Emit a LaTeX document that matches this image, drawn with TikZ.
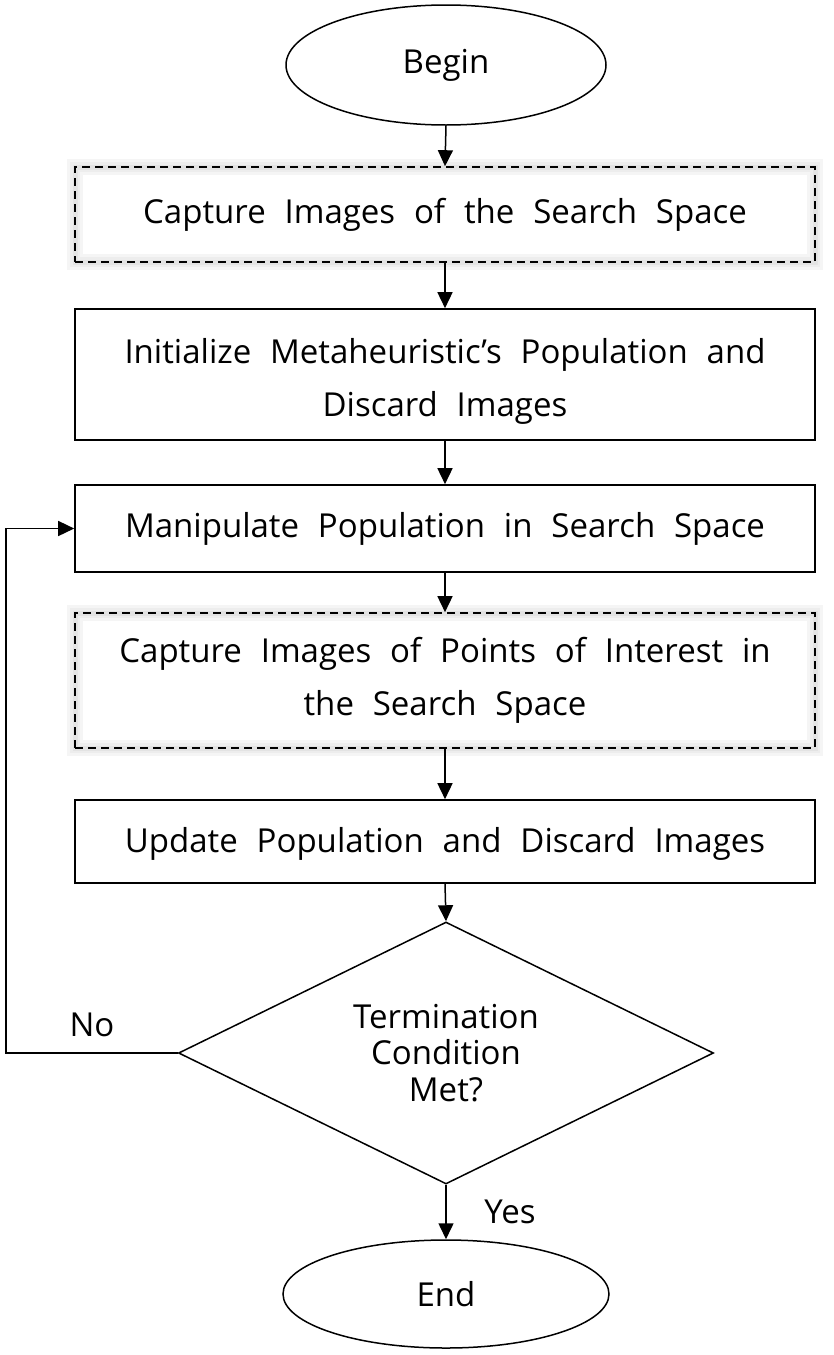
\documentclass[tikz,border=0pt]{standalone}
\usepackage{fontspec}
\setmainfont[WordSpace=2.2]{Open Sans}
\usetikzlibrary{arrows.meta,shapes.geometric}
\begin{document}
\begin{tikzpicture}[x=1pt,y=-1pt,
  txt/.style={font=\fontsize{33}{53}\selectfont},
  term/.style={draw,ellipse,line width=1.5pt,inner sep=0pt,txt},
  box/.style={draw,rectangle,line width=1.6pt,inner sep=0pt,minimum width=740pt,align=center,txt},
  dbox/.style={box,dash pattern=on 8pt off 5pt,
    preaction={draw,solid,line width=16pt,black!4},
    preaction={draw,solid,line width=10pt,black!7},
    preaction={draw,solid,line width=5pt,black!11}},
  dec/.style={draw,diamond,aspect=2,line width=1.5pt,inner sep=0pt,align=center,font=\fontsize{33}{36.5}\selectfont},
  arr/.style={line width=1.5pt,-{Triangle[length=16pt,width=15pt]}},
  lbl/.style={txt}
]
\useasboundingbox (0,0) rectangle (833,1355);
\node[term,minimum width=320pt,minimum height=120pt] (begin) at (446,65) {Begin};
\node[dbox,minimum height=95pt] (b1) at (445,214.5) {Capture Images of the Search Space};
\node[box,minimum height=131pt] (b2) at (445,374.5) {\rule{0pt}{38pt}Initialize Metaheuristic’s Population and\\Discard Images};
\node[box,minimum height=87pt] (b3) at (445,528.5) {Manipulate Population in Search Space};
\node[dbox,minimum height=135pt] (b4) at (445,680.5) {Capture Images of Points of Interest in\\the Search Space};
\node[box,minimum height=83pt] (b5) at (445,841.5) {\rule{0pt}{30pt}Update Population and Discard Images};
\node[dec,minimum width=535pt,minimum height=262pt] (d) at (446,1053) {Termination\\Condition\\Met?};
\node[term,minimum width=326pt,minimum height=108pt] (end) at (446,1294) {End};
\coordinate (lp) at (6,1053);
\node[lbl] (no) at (92,1025) {No};
\node[lbl] (yes) at (510,1212) {Yes};
\draw[arr] (begin.south) -- (b1.north);
\draw[arr] (b1.south) -- (b2.north);
\draw[arr] (b2.south) -- (b3.north);
\draw[arr] (b3.south) -- (b4.north);
\draw[arr] (b4.south) -- (b5.north);
\draw[arr] (b5.south) -- (d.north);
\draw[arr] (d.south) -- (end.north);
\draw[arr] (d.west) -- (lp) |- (b3.west);
\end{tikzpicture}
\end{document}
